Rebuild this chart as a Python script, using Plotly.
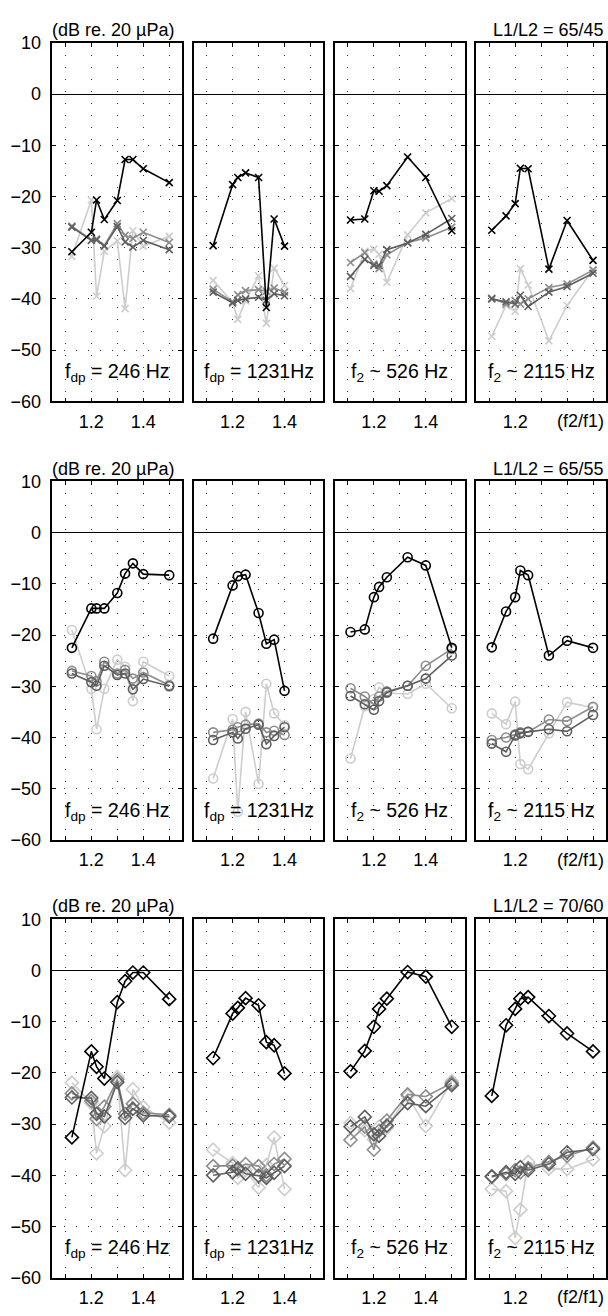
import plotly.graph_objects as go

W, H = 608, 1316

# f2/f1 ratios measured in each frequency panel
ratio_246 = [1.125, 1.2, 1.22, 1.25, 1.3, 1.33, 1.36, 1.4, 1.5]
ratio_1231 = [1.125, 1.2, 1.22, 1.25, 1.3, 1.33, 1.36, 1.4]
ratio_526 = [1.11, 1.165, 1.2, 1.22, 1.25, 1.33, 1.4, 1.5]
ratio_2115 = [1.11, 1.165, 1.2, 1.22, 1.25, 1.33, 1.4, 1.5]

panel_labels = ["f<sub>dp</sub> = 246 Hz", "f<sub>dp</sub> = 1231Hz",
                "f<sub>2</sub> ~ 526 Hz", "f<sub>2</sub> ~ 2115 Hz"]
level_labels = ["L1/L2 = 65/45", "L1/L2 = 65/55", "L1/L2 = 70/60"]

# DP level (dB re. 20 uPa), one list per panel: 246, 1231, 526, 2115 Hz
# L1/L2 = 65/45
l45_black = [[-30.8, -27.0, -20.7, -24.5, -20.8, -12.8, -12.8, -14.6, -17.3],
             [-29.6, -17.7, -16.3, -15.4, -16.3, -41.7, -24.4, -29.7],
             [-24.6, -24.4, -18.9, -19.0, -17.9, -12.3, -16.3, -26.7],
             [-26.6, -23.8, -21.4, -14.5, -14.6, -34.2, -24.7, -32.5]]
l45_dark = [[-26.0, -28.6, -28.5, -29.7, -25.9, -28.9, -29.9, -28.6, -30.4],
            [-38.7, -40.8, -40.3, -40.0, -39.7, -40.3, -39.0, -39.4],
            [-35.6, -32.3, -33.5, -33.5, -30.4, -29.1, -27.4, -24.3],
            [-40.0, -40.6, -41.0, -39.3, -41.5, -38.7, -37.6, -35.0]]
l45_mid = [[-25.8, -28.5, -28.3, -29.6, -25.3, -27.6, -28.2, -27.0, -29.0],
           [-38.1, -40.6, -39.2, -38.4, -38.2, -38.5, -37.9, -38.7],
           [-32.9, -31.0, -33.2, -34.1, -31.4, -29.0, -28.1, -26.0],
           [-39.9, -41.0, -40.3, -41.0, -40.0, -37.8, -37.1, -34.4]]
l45_light = [[-31.7, -20.7, -39.5, -30.7, -28.7, -41.9, -26.7, -29.7, -27.8],
             [-36.4, -40.7, -44.0, -40.4, -35.5, -44.8, -34.0, -37.4],
             [-38.0, -30.7, -30.3, -31.3, -36.8, -27.5, -23.2, -20.4],
             [-47.3, -41.3, -42.4, -34.1, -37.3, -48.2, -41.3, -34.3]]

# L1/L2 = 65/55
l55_black = [[-22.5, -14.8, -14.8, -14.8, -11.8, -8.0, -6.0, -8.1, -8.3],
             [-20.7, -10.3, -8.5, -8.2, -15.7, -21.7, -20.9, -30.9],
             [-19.4, -18.9, -12.6, -10.6, -8.7, -4.8, -6.4, -22.5],
             [-22.4, -15.4, -12.6, -7.4, -8.3, -24.0, -21.1, -22.5]]
l55_dark = [[-27.5, -29.2, -29.9, -26.0, -27.8, -27.5, -30.6, -28.6, -30.0],
            [-40.5, -39.0, -40.2, -38.3, -37.5, -41.3, -39.7, -38.0],
            [-31.9, -33.5, -34.6, -32.9, -31.2, -29.9, -28.5, -24.0],
            [-41.2, -42.8, -39.6, -39.2, -38.9, -38.4, -38.8, -35.6]]
l55_mid = [[-27.0, -28.0, -29.0, -25.2, -27.5, -26.8, -28.5, -27.3, -29.8],
           [-39.0, -38.5, -38.0, -37.5, -37.3, -39.0, -38.7, -39.5],
           [-30.4, -32.0, -33.6, -32.0, -31.0, -29.9, -26.0, -22.7],
           [-40.5, -40.0, -39.4, -39.0, -38.9, -36.5, -36.8, -34.0]]
l55_light = [[-19.0, -30.5, -38.4, -30.5, -24.8, -26.2, -32.9, -25.2, -28.0],
             [-48.0, -36.4, -54.5, -35.0, -49.1, -29.5, -35.3, -37.6],
             [-44.1, -33.9, -32.5, -30.2, -31.3, -31.5, -29.5, -34.3],
             [-35.3, -37.4, -33.0, -45.2, -46.2, -39.2, -33.1, -34.2]]

# L1/L2 = 70/60
l60_black = [[-32.6, -15.8, -18.8, -21.1, -6.2, -2.1, -0.4, -0.4, -5.6],
             [-17.1, -8.4, -7.3, -5.4, -6.8, -14.0, -14.6, -20.1],
             [-19.7, -15.7, -11.0, -7.5, -5.5, -0.3, -1.2, -11.0],
             [-24.5, -10.7, -7.5, -5.5, -5.2, -8.9, -12.3, -15.8]]
l60_dark = [[-24.8, -24.9, -28.0, -28.5, -21.8, -28.8, -27.0, -28.3, -28.5],
            [-40.0, -39.4, -38.7, -39.7, -40.1, -40.5, -39.5, -38.2],
            [-30.5, -28.6, -32.0, -32.3, -30.3, -25.9, -26.5, -22.4],
            [-40.2, -39.4, -39.7, -38.4, -39.0, -37.8, -35.5, -34.9]]
l60_mid = [[-24.0, -25.5, -29.0, -26.6, -21.3, -28.0, -26.0, -27.8, -28.2],
           [-38.2, -38.1, -38.6, -37.8, -38.2, -40.0, -37.8, -36.8],
           [-33.1, -30.5, -35.0, -31.3, -29.3, -24.2, -24.6, -22.0],
           [-40.3, -39.7, -39.0, -39.4, -38.6, -37.4, -36.2, -34.6]]
l60_light = [[-21.9, -25.9, -35.7, -30.4, -20.8, -39.0, -23.2, -26.7, -29.7],
             [-35.0, -37.6, -40.5, -39.0, -42.4, -38.0, -32.6, -42.7],
             [-29.8, -31.2, -33.0, -30.5, -30.7, -24.5, -30.4, -21.6],
             [-42.7, -43.1, -52.2, -46.7, -37.4, -38.7, -38.8, -36.9]]

ratios = [ratio_246, ratio_1231, ratio_526, ratio_2115]
rows = [
    (l45_light, l45_mid, l45_dark, l45_black),
    (l55_light, l55_mid, l55_dark, l55_black),
    (l60_light, l60_mid, l60_dark, l60_black),
]
row_symbols = ["x-thin", "circle-open", "diamond-open"]
row_msize = [7, 9, 10]
colors = ["#cdcdcd", "#8c8c8c", "#5e5e5e", "#000000"]

yticks = [-60, -50, -40, -30, -20, -10, 0, 10]
yticktext = [("\u2212" + str(-v)) if v < 0 else str(v) for v in yticks]
xgrid = [1.1, 1.2, 1.3, 1.4, 1.5]
xlabeled = [[1.2, 1.4], [1.2, 1.4], [1.2, 1.4], [1.2]]

col_px = [(52.5, 182.5), (194.0, 324.0), (335.5, 465.5), (477.0, 607.0)]
row_px = [(33.3, 397.3), (478.7, 842.7), (923.3, 1287.3)]

FONT = "Liberation Sans, Arial, Helvetica, sans-serif"
TICK_SIZE = 18
HEAD_SIZE = 18
LABEL_SIZE = 19.5
GRID = dict(showgrid=True, gridcolor="#333333", gridwidth=1, griddash="1px,11px")

fig = go.Figure()
layout = dict(
    width=W, height=H, margin=dict(l=0, r=0, t=0, b=0),
    paper_bgcolor="white", plot_bgcolor="white",
    showlegend=False, font=dict(family=FONT, color="black", size=TICK_SIZE),
)
annotations = []

for r, series in enumerate(rows):
    for c in range(4):
        n = r * 4 + c + 1
        xa = "x" if n == 1 else f"x{n}"
        ya = "y" if n == 1 else f"y{n}"
        for vals, col in zip(series, colors):
            fig.add_trace(go.Scatter(
                x=ratios[c], y=vals[c], xaxis=xa, yaxis=ya,
                mode="lines+markers",
                line=dict(color=col, width=1.6),
                marker=dict(symbol=row_symbols[r], size=row_msize[r], color=col,
                            line=dict(color=col, width=1.6)),
                hoverinfo="x+y",
            ))
        x0, x1 = col_px[c]
        y0, y1 = row_px[r]
        major = xlabeled[c]
        minor_vals = [v for v in xgrid if v not in major]
        layout["xaxis" if n == 1 else f"xaxis{n}"] = dict(
            domain=[x0 / W, x1 / W], anchor=ya, range=[1.05, 1.55],
            tickvals=major, ticktext=[f"{v:.1f}" for v in major],
            ticks="inside", ticklen=4, tickcolor="black",
            showline=True, mirror="ticks", linecolor="black", linewidth=1.5,
            zeroline=False, tickfont=dict(size=TICK_SIZE), ticklabelstandoff=3,
            minor=dict(tickvals=minor_vals, ticks="inside", ticklen=4,
                       tickcolor="black", **GRID),
            fixedrange=True, **GRID,
        )
        layout["yaxis" if n == 1 else f"yaxis{n}"] = dict(
            domain=[1 - y1 / H, 1 - y0 / H], anchor=xa, range=[-60, 10],
            tickvals=yticks, ticktext=yticktext, ticks="inside", ticklen=4,
            tickcolor="black", showline=True, mirror="ticks",
            linecolor="black", linewidth=1.5,
            zeroline=True, zerolinecolor="black", zerolinewidth=1.2,
            showticklabels=(c == 0), tickfont=dict(size=TICK_SIZE),
            ticklabelstandoff=6, fixedrange=True, **GRID,
        )
        annotations.append(dict(
            text=panel_labels[c], xref=xa, yref=ya, x=1.3, y=-57.2,
            xanchor="center", yanchor="bottom", showarrow=False,
            font=dict(size=LABEL_SIZE, family=FONT, color="black"),
        ))
        if c == 3:
            annotations.append(dict(
                text="(f2/f1)", xref=xa, yref="paper", x=1.45,
                y=1 - (y1 + 20) / H, xanchor="center", yanchor="middle",
                showarrow=False, font=dict(size=TICK_SIZE, family=FONT, color="black"),
            ))
    top = row_px[r][0]
    annotations.append(dict(
        text="(dB re. 20 \u00b5Pa)", xref="paper", yref="paper",
        x=50 / W, y=1 - (top - 13) / H, xanchor="left", yanchor="middle",
        showarrow=False, font=dict(size=HEAD_SIZE, family=FONT, color="black"),
    ))
    annotations.append(dict(
        text=level_labels[r], xref="paper", yref="paper",
        x=607 / W, y=1 - (top - 13) / H, xanchor="right", yanchor="middle",
        showarrow=False, font=dict(size=HEAD_SIZE, family=FONT, color="black"),
    ))

layout["annotations"] = annotations
fig.update_layout(**layout)
fig.write_html("out.html")
